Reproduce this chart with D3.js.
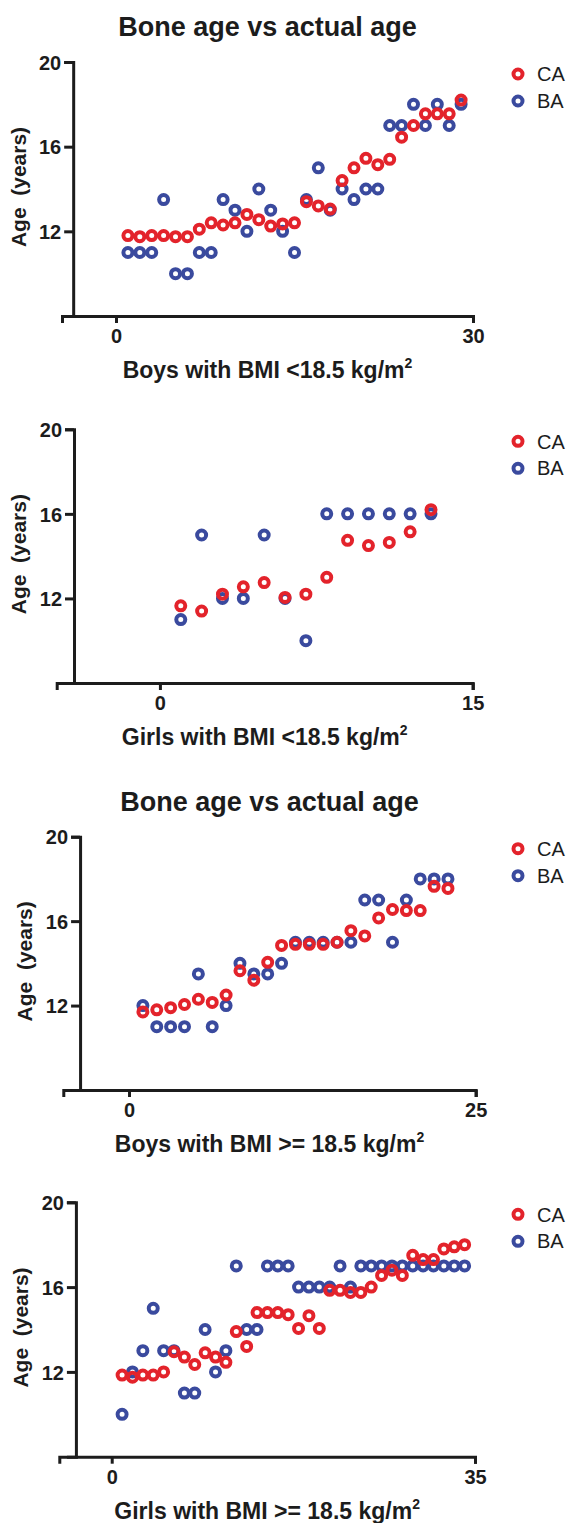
<!DOCTYPE html>
<html>
<head>
<meta charset="utf-8">
<script src="https://cdn.jsdelivr.net/npm/d3@7"></script>
<style>
  body { margin: 0; background: #fff; }
  svg { display: block; font-family: "Liberation Sans", Arial, sans-serif; }
</style>
</head>
<body>
<svg id="chart"></svg>
<script>
const width = 585;
const height = 1523;

// age ticks shared by all panels
const yTicks = [12, 16, 20];
const seriesNames = ["CA", "BA"];

// Boys with BMI < 18.5
const boysUnderCA = [11.8, 11.75, 11.8, 11.8, 11.75, 11.75, 12.1, 12.4, 12.3, 12.4, 12.8, 12.55, 12.25, 12.35, 12.4, 13.4, 13.2, 13.05, 14.4, 15.0, 15.45, 15.15, 15.4, 16.45, 17.0, 17.55, 17.55, 17.55, 18.2];
const boysUnderBA = [11, 11, 11, 13.5, 10, 10, 11, 11, 13.5, 13, 12, 14, 13, 12, 11, 13.5, 15, 13, 14, 13.5, 14, 14, 17, 17, 18, 17, 18, 17, 18];

// Girls with BMI < 18.5
const girlsUnderCA = [11.65, 11.4, 12.2, 12.55, 12.75, 12.05, 12.2, 13.0, 14.75, 14.5, 14.65, 15.15, 16.2];
const girlsUnderBA = [11, 15, 12, 12, 15, 12, 10, 16, 16, 16, 16, 16, 16];

// Boys with BMI >= 18.5
const boysOverCA = [11.7, 11.8, 11.9, 12.05, 12.3, 12.15, 12.5, 13.65, 13.2, 14.05, 14.85, 14.9, 14.9, 14.9, 15.0, 15.55, 15.3, 16.15, 16.55, 16.5, 16.5, 17.65, 17.55];
const boysOverBA = [12, 11, 11, 11, 13.5, 11, 12, 14, 13.5, 13.5, 14, 15, 15, 15, 15, 15, 17, 17, 15, 17, 18, 18, 18];

// Girls with BMI >= 18.5
const girlsOverCA = [11.85, 11.75, 11.85, 11.85, 12.0, 12.95, 12.7, 12.35, 12.9, 12.7, 12.45, 13.9, 13.2, 14.8, 14.8, 14.8, 14.7, 14.05, 14.65, 14.05, 15.85, 15.85, 15.75, 15.75, 16.0, 16.55, 16.8, 16.55, 17.5, 17.3, 17.3, 17.8, 17.9, 18.0];
const girlsOverBA = [10, 12, 13, 15, 13, 13, 11, 11, 14, 12, 13, 17, 14, 14, 17, 17, 17, 16, 16, 16, 16, 17, 16, 17, 17, 17, 17, 17, 17, 17, 17, 17, 17, 17];

const panels = [
  { title: "Bone age vs actual age", label: "Boys with BMI <18.5 kg/m", ca: boysUnderCA, ba: boysUnderBA,
    xMax: 30, xLo: -4.54, yAxisAt: -3.6, left: 62, right: 473, top: 62, bottom: 316 },
  { title: null, label: "Girls with BMI <18.5 kg/m", ca: girlsUnderCA, ba: girlsUnderBA,
    xMax: 15, xLo: -4.95, yAxisAt: -4.12, left: 56.7, right: 472.7, top: 429.3, bottom: 683 },
  { title: "Bone age vs actual age", label: "Boys with BMI >= 18.5 kg/m", ca: boysOverCA, ba: boysOverBA,
    xMax: 25, xLo: -4.74, yAxisAt: -3.53, left: 63.3, right: 475.7, top: 836.7, bottom: 1090 },
  { title: null, label: "Girls with BMI >= 18.5 kg/m", ca: girlsOverCA, ba: girlsOverBA,
    xMax: 35, xLo: -5.05, yAxisAt: -3.45, left: 59.3, right: 475, top: 1202.3, bottom: 1456.7 }
];

const color = d3.scaleOrdinal().domain(seriesNames).range(["#e3232b", "#3a4a9e"]);
const ink = "#1c1c1c";

const svg = d3.select("#chart").attr("width", width).attr("height", height);
svg.append("rect").attr("width", width).attr("height", height).attr("fill", "#fff");

panels.forEach(p => {
  const g = svg.append("g");
  const x = d3.scaleLinear().domain([p.xLo, p.xMax]).range([p.left, p.right]);
  const y = d3.scaleLinear().domain([8, 20]).range([p.bottom, p.top]);
  const yAxisX = x(p.yAxisAt);
  const mid = (p.left + p.right) / 2;

  // x axis
  const xa = g.append("g")
    .attr("transform", `translate(0,${p.bottom})`)
    .call(d3.axisBottom(x).tickValues([0, p.xMax]).tickSizeOuter(0).tickSize(7).tickPadding(6));
  // y axis
  const ya = g.append("g")
    .attr("transform", `translate(${yAxisX},0)`)
    .call(d3.axisLeft(y).tickValues(yTicks).tickSizeOuter(0).tickSize(9).tickPadding(3));

  [xa, ya].forEach(a => {
    a.select(".domain").attr("stroke", ink).attr("stroke-width", 3);
    a.selectAll(".tick line").attr("stroke", ink).attr("stroke-width", 3);
    a.selectAll(".tick text").attr("fill", ink).attr("font-size", 20).attr("font-weight", "bold")
      .attr("font-family", "Liberation Sans, Arial, sans-serif");
  });
  ya.selectAll(".tick text").attr("dy", "0.36em");
  xa.selectAll(".tick text").attr("dy", "0.71em");

  // y label
  g.append("text")
    .attr("transform", `translate(${yAxisX - 55},${(p.top + p.bottom) / 2 - 2}) rotate(-90)`)
    .attr("text-anchor", "middle").attr("dy", "0.35em")
    .attr("font-size", 21).attr("font-weight", "bold").attr("fill", ink)
    .attr("xml:space", "preserve")
    .text("Age  (years)");

  // x label with superscript
  const xl = g.append("text")
    .attr("x", mid).attr("y", p.bottom + 62)
    .attr("text-anchor", "middle")
    .attr("font-size", 23).attr("font-weight", "bold").attr("fill", ink);
  xl.append("tspan").text(p.label);
  xl.append("tspan").attr("dy", -10).attr("font-size", 14).text("2");

  if (p.title) {
    g.append("text")
      .attr("x", mid).attr("y", p.top - 26)
      .attr("text-anchor", "middle")
      .attr("font-size", 27).attr("font-weight", "bold").attr("fill", ink)
      .text(p.title);
  }

  // points: BA underneath, CA on top
  [["BA", p.ba], ["CA", p.ca]].forEach(([name, vals]) => {
    g.append("g").selectAll("circle")
      .data(vals)
      .join("circle")
      .attr("cx", (d, i) => x(i + 1))
      .attr("cy", d => y(d))
      .attr("r", 4.5)
      .attr("fill", "none")
      .attr("stroke", color(name))
      .attr("stroke-width", 4);
  });

  // legend
  const lg = g.append("g").attr("transform", `translate(518,${p.top + 12})`);
  seriesNames.forEach((name, i) => {
    lg.append("circle").attr("cx", 0).attr("cy", i * 27).attr("r", 4.5)
      .attr("fill", "none").attr("stroke", color(name)).attr("stroke-width", 4);
    lg.append("text").attr("x", 19).attr("y", i * 27).attr("dy", "0.36em")
      .attr("font-size", 20).attr("fill", ink).text(name);
  });
});
</script>
</body>
</html>
